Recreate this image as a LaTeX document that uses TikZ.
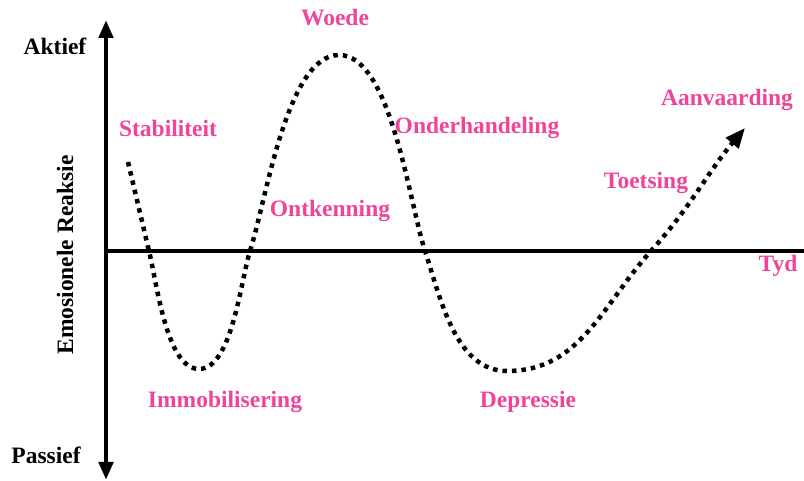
\documentclass[tikz,border=0pt]{standalone}
\usepackage{fontspec}
\setmainfont{Liberation Serif}
\usepackage{tikz}
\usetikzlibrary{arrows.meta}
\definecolor{phasepink}{HTML}{F0449A}
\tikzset{
  axis/.style={line width=4.5pt, {Triangle[length=18pt,width=14pt]}-{Triangle[length=18pt,width=14pt]}},
  hax/.style={line width=4.5pt},
  curve/.style={line width=4.5pt, dash pattern=on 4.5pt off 5pt, -{Triangle[length=20pt,width=16pt]}},
  endlbl/.style={font=\bfseries\fontsize{23.5}{28}\selectfont, inner sep=0pt},
  phase/.style={endlbl, text=phasepink},
}
\begin{document}
\begin{tikzpicture}[x=1pt,y=1pt]
  \useasboundingbox (0,0) rectangle (804,481);
  % axes
  \coordinate (ytop) at (106,461);
  \coordinate (ybot) at (106,1);
  \coordinate (xl) at (104,230);
  \coordinate (xr) at (804,230);
  \draw[axis] (ybot) -- (ytop);
  \draw[hax] (xl) -- (xr);
  \node[endlbl] (aktief) at (55,435) {Aktief};
  \node[endlbl] (passief) at (46,26) {Passief};
  \node[endlbl,rotate=90] (reaksie) at (65,226) {Emosionele Reaksie};
  \node[phase] (tyd) at (778,215) {Tyd};
  % curve
  \coordinate (start) at (128,319);
  \coordinate (cross1) at (149,230);
  \coordinate (low1) at (199,112);
  \coordinate (cross2) at (250,230);
  \coordinate (peak) at (339,426);
  \coordinate (cross3) at (425,230);
  \coordinate (low2) at (507,110);
  \coordinate (cross4) at (651,230);
  \coordinate (tip) at (745,353);
  \draw[curve] (start) -- (cross1)
    to[out=-76,in=180,looseness=0.65] (low1)
    to[out=0,in=-107,looseness=0.65] (cross2)
    to[out=72,in=180,looseness=0.62] (peak)
    to[out=0,in=108,looseness=0.62] (cross3)
    to[out=-72,in=180,looseness=0.9] (low2)
    to[out=0,in=-132] (cross4)
    to[out=48,in=-130] (tip);
  % phases
  \node[phase] (stab) at (168,353) {Stabiliteit};
  \node[phase] (woede) at (335,463) {Woede};
  \node[phase] (onder) at (477,353) {Onderhandeling};
  \node[phase] (ontk) at (330,270) {Ontkenning};
  \node[phase] (aanv) at (727,381) {Aanvaarding};
  \node[phase] (toets) at (646,298) {Toetsing};
  \node[phase] (immob) at (225,79) {Immobilisering};
  \node[phase] (depr) at (528,79) {Depressie};
\end{tikzpicture}
\end{document}
